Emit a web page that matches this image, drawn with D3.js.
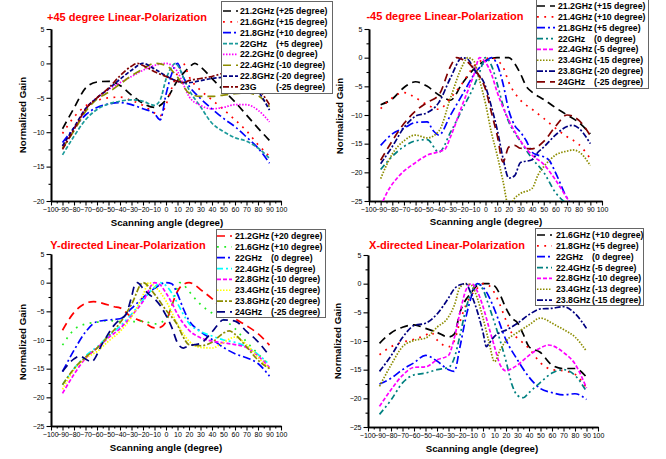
<!DOCTYPE html>
<html>
<head>
<meta charset="utf-8">
<script src="https://cdn.jsdelivr.net/npm/d3@7"></script>
<style>
  body { margin: 0; background: #fff; }
  svg { display: block; font-family: "Liberation Sans", Arial, sans-serif; }
</style>
</head>
<body>
<div id="chart"></div>
<script>
// ---- +45 degree panel ----
var p45Freq = ["21.2GHz", "21.6GHz", "21.8GHz", "22GHz", "22.2GHz", "22.4GHz", "22.8GHz", "23G"];
var p45Steer = ["(+25 degree)", "(+15 degree)", "(+10 degree)", "(+5 degree)", "(0 degree)", "(-10 degree)", "(-20 degree)", "(-25 degree)"];
var p45_212 = [[-90,-9.5],[-80,-6.5],[-70,-3.6],[-60,-2.7],[-50,-2.6],[-40,-3.2],[-30,-4.6],[-20,-5.8],[-10,-6.4],[0,-5.3],[10,-2.5],[20,-0.6],[25,0],[30,-0.5],[40,-2.2],[50,-3.9],[60,-5.6],[70,-7.5],[80,-9.4],[90,-11.2]];
var p45_216 = [[-90,-10.2],[-80,-7.8],[-70,-6.2],[-60,-5.4],[-50,-5],[-40,-4.9],[-30,-5.4],[-20,-6.1],[-10,-7.2],[-5,-7.6],[0,-6],[5,-3.6],[10,-1.4],[15,0],[20,-1.9],[30,-3.9],[40,-5.3],[50,-6.7],[60,-8.2],[70,-9.8],[80,-11.8],[90,-13.5]];
var p45_218 = [[-90,-11.5],[-80,-9.4],[-70,-7.5],[-60,-6.4],[-50,-5.9],[-40,-5.7],[-30,-6],[-20,-6.6],[-10,-7.3],[-5,-8.2],[0,-4.5],[5,-1.5],[10,0],[15,-2],[20,-3.3],[30,-5.1],[40,-6.6],[50,-8],[60,-9.2],[70,-10.7],[80,-12.3],[90,-14.5]];
var p45_220 = [[-90,-13.3],[-80,-10.6],[-70,-8.2],[-60,-6.7],[-50,-5.9],[-40,-5.5],[-30,-5.3],[-20,-5.5],[-10,-6.1],[-5,-5.3],[0,-2.3],[5,-0.5],[8,0],[12,-0.8],[15,-2],[20,-3.8],[30,-6.3],[40,-8.7],[50,-9.9],[60,-10.8],[70,-11.3],[80,-12.3],[90,-13.8]];
var p45_222 = [[-90,-12],[-80,-9.5],[-70,-6.6],[-60,-5],[-50,-3.8],[-40,-2.8],[-30,-1.9],[-20,-1],[-10,-0.3],[0,0],[5,-0.3],[10,-1.2],[15,-3],[20,-4.8],[30,-6.1],[40,-6.6],[50,-6.4],[60,-6],[70,-6],[80,-6.8],[90,-8.5]];
var p45_224 = [[-90,-12.3],[-80,-9.8],[-70,-7],[-60,-5.2],[-50,-4.2],[-40,-3],[-30,-1.8],[-20,-0.8],[-10,0],[0,-0.3],[10,-2],[20,-4.3],[30,-4.8],[40,-4.8],[50,-4.6],[60,-4.4],[70,-4.3],[80,-4.7],[90,-6.3]];
var p45_228 = [[-90,-12],[-80,-9.3],[-70,-6.6],[-60,-5],[-50,-3.7],[-40,-2.3],[-30,-1],[-20,0],[-10,-0.8],[0,-1.8],[10,-2.6],[20,-2.8],[30,-2.5],[40,-2.2],[50,-2],[60,-1.8],[70,-2.3],[80,-4],[90,-6.8]];
var p45_230 = [[-90,-12.5],[-80,-9.6],[-70,-6.7],[-60,-5],[-50,-3.6],[-40,-1.8],[-30,-0.4],[-25,0],[-20,-0.3],[-10,-1.2],[0,-1.9],[10,-2.6],[15,-2.8],[20,-2.5],[30,-2.2],[40,-1.9],[50,-1.4],[60,-1],[70,-1.5],[80,-3.5],[90,-6]];

// ---- -45 degree panel ----
var m45Freq = ["21.2GHz", "21.4GHz", "21.8GHz", "22GHz", "22.4GHz", "23.4GHz", "23.8GHz", "24GHz"];
var m45Steer = ["(+15 degree)", "(+10 degree)", "(+5 degree)", "(0 degree)", "(-5 degree)", "(-15 degree)", "(-20 degree)", "(-25 degree)"];
var m45_212 = [[-90,-8.2],[-80,-7.2],[-70,-5.2],[-60,-4.2],[-50,-5],[-40,-6.5],[-30,-7.4],[-20,-4.5],[-10,-2],[0,-0.5],[10,0],[20,0],[25,-1],[30,-2.8],[35,-5],[40,-6],[50,-7.3],[60,-8.7],[70,-10],[80,-11.3],[90,-13.3]];
var m45_214 = [[-90,-8.9],[-80,-7],[-70,-6.1],[-60,-7],[-50,-8.2],[-40,-9],[-30,-7],[-20,-4.5],[-10,-1.5],[0,-0.2],[5,0],[10,-0.5],[15,-1.6],[20,-4.3],[30,-7.4],[40,-9],[50,-10.6],[60,-12.3],[70,-13.8],[80,-15.1],[90,-17.6]];
var m45_218 = [[-90,-15.3],[-80,-13.3],[-70,-12.3],[-60,-11.3],[-50,-11.2],[-45,-12.7],[-40,-13.5],[-30,-10],[-20,-6.5],[-10,-3],[0,-0.7],[5,0],[10,-1.2],[15,-4.5],[20,-9.2],[25,-11.8],[30,-13],[35,-14.5],[40,-16.5],[45,-17],[50,-17.3],[55,-18],[60,-20],[70,-24.5],[80,-27]];
var m45_220 = [[-90,-19.5],[-80,-17.2],[-70,-15.5],[-60,-14.5],[-50,-14.3],[-40,-16.5],[-30,-13],[-20,-9],[-10,-5],[-5,-2.5],[0,0],[5,-1.3],[10,-4.5],[15,-8.3],[20,-11.2],[30,-14.6],[40,-17.6],[50,-20],[60,-23.5],[70,-25.5]];
var m45_224 = [[-90,-26],[-85,-23.7],[-75,-20.8],[-60,-18.3],[-50,-17],[-40,-16.4],[-35,-16],[-30,-13.8],[-20,-8.3],[-10,-3],[-5,0],[0,-0.8],[5,-2.8],[10,-6],[20,-10.9],[30,-14.5],[40,-17],[50,-18.6],[60,-21.3],[70,-24.5],[75,-26]];
var m45_234 = [[-90,-21.1],[-80,-16.8],[-70,-14.5],[-60,-13.5],[-50,-14],[-40,-12.8],[-30,-7],[-20,-1.5],[-15,0],[-10,-0.6],[-5,-4],[0,-8],[5,-13],[10,-17],[15,-21.5],[20,-26],[25,-24.5],[30,-23.7],[40,-22.8],[45,-20.5],[50,-19],[55,-17.9],[60,-17],[70,-16.3],[75,-16.1],[80,-16.4],[90,-18.8]];
var m45_238 = [[-90,-18.5],[-80,-15.5],[-70,-12.2],[-60,-10.2],[-50,-9.6],[-40,-7.8],[-30,-3.5],[-20,0],[-15,-0.3],[-10,-2],[0,-5],[5,-8.5],[10,-12.5],[15,-17.5],[20,-21],[25,-20.6],[30,-18.3],[40,-17.8],[45,-16.5],[50,-15.6],[60,-13.5],[70,-12],[75,-11.8],[80,-12.3],[90,-15]];
var m45_240 = [[-90,-17.9],[-80,-14.5],[-70,-11.5],[-60,-9.3],[-50,-7.8],[-40,-6.5],[-30,-1.5],[-25,0],[-20,-0.3],[-15,-0.8],[-10,-2],[-5,-3.3],[0,-5.5],[5,-9.5],[10,-13.5],[15,-18.2],[20,-15.6],[25,-15.3],[30,-15.8],[40,-15.9],[50,-14.6],[60,-12],[70,-10],[80,-10.9],[90,-13.6]];

// ---- Y-directed panel ----
var yFreq = ["21.2GHz", "21.6GHz", "22GHz", "22.4GHz", "22.8GHz", "23.4GHz", "23.8GHz", "24GHz"];
var ySteer = ["(+20 degree)", "(+10 degree)", "(0 degree)", "(-5 degree)", "(-10 degree)", "(-15 degree)", "(-20 degree)", "(-25 degree)"];
var y_212 = [[-90,-8.3],[-80,-5.2],[-70,-3.6],[-63,-3.3],[-55,-3.6],[-45,-4.2],[-40,-4.4],[-30,-6],[-20,-6.8],[-10,-7.9],[-5,-7.8],[0,-6.8],[5,-4],[10,-1.5],[15,-0.3],[20,0],[25,-0.4],[30,-1.2],[40,-2.8],[50,-4.9],[60,-6.3],[70,-7.5],[80,-8.9],[90,-10.9]];
var y_216 = [[-90,-10.9],[-80,-8.2],[-70,-7.2],[-60,-6.9],[-50,-6.6],[-40,-6.8],[-30,-6.8],[-20,-6.7],[-10,-7.2],[0,-6.4],[5,-4],[10,-0.8],[12,0],[15,-0.3],[20,-1.5],[30,-3.8],[40,-5.3],[50,-6.4],[60,-8],[70,-10.3],[80,-12.4],[90,-14.5]];
var y_220 = [[-90,-15.5],[-80,-11.8],[-70,-8.6],[-60,-6.8],[-50,-6.5],[-40,-6.3],[-30,-4.5],[-20,-2.6],[-10,-1],[0,0],[5,-0.2],[10,-2],[15,-4.5],[20,-6.6],[30,-8.5],[40,-9.9],[50,-11.3],[60,-12.4],[70,-13.1],[80,-14.1],[90,-16.3]];
var y_224 = [[-90,-17.8],[-80,-15],[-70,-12.8],[-60,-11.2],[-50,-9.3],[-40,-7.6],[-30,-5.5],[-20,-3],[-10,-0.8],[-5,0],[0,-0.5],[5,-1.8],[10,-3.6],[15,-5.5],[20,-7.1],[30,-8.5],[40,-9.3],[50,-10],[60,-10.4],[70,-11.2],[80,-12.5],[90,-14.3]];
var y_228 = [[-90,-19.3],[-80,-16],[-70,-13.2],[-60,-11.4],[-50,-9.6],[-40,-8],[-30,-5.8],[-20,-3.3],[-10,0],[-5,-0.4],[0,-1.8],[5,-3.5],[10,-5.5],[20,-8.3],[30,-9.6],[40,-10.2],[50,-10.5],[60,-10.8],[70,-11.3],[80,-12.8],[90,-14.8]];
var y_234 = [[-90,-18.6],[-80,-15.2],[-70,-13.2],[-60,-12],[-50,-10.2],[-40,-8.5],[-30,-6],[-20,-2.2],[-15,0],[-10,-0.6],[0,-3.2],[10,-7.2],[20,-10.2],[30,-11.3],[40,-11.4],[50,-10.4],[60,-9.5],[70,-10.8],[80,-13],[90,-15]];
var y_238 = [[-90,-17.8],[-80,-15],[-70,-13],[-60,-11.4],[-50,-9.3],[-40,-7],[-30,-3.8],[-20,0],[-10,-2],[0,-4.8],[10,-7.4],[15,-9.5],[20,-10.8],[30,-11],[40,-10.4],[50,-8.8],[55,-8.4],[60,-9],[70,-11.2],[80,-13.5],[90,-15]];
var y_240 = [[-90,-15.5],[-80,-13.3],[-75,-12.8],[-70,-13.3],[-65,-13.8],[-55,-10.5],[-45,-7.4],[-40,-6.4],[-35,-5.6],[-30,-2.5],[-27,-0.3],[-25,0],[-20,-1],[-15,-2],[-10,-2.8],[-5,-4],[0,-5.7],[5,-7.8],[10,-10.5],[15,-11.4],[20,-11],[25,-10.8],[30,-10.6],[40,-8.6],[50,-6.5],[60,-6.7],[70,-8.5],[80,-10.3],[90,-12.8]];

// ---- X-directed panel ----
var xFreq = ["21.6GHz", "21.8GHz", "22GHz", "22.4GHz", "22.8GHz", "23.4GHz", "23.8GHz"];
var xSteer = ["(+10 degree)", "(+5 degree)", "(0 degree)", "(-5 degree)", "(-10 degree)", "(-13 degree)", "(-15 degree)"];
var x_216 = [[-90,-10.4],[-80,-8.6],[-70,-7.6],[-60,-7.2],[-50,-7.8],[-40,-8.5],[-30,-9.3],[-25,-8.8],[-20,-5],[-10,-1.5],[-5,-0.3],[0,0],[5,0],[10,-0.4],[15,-2],[20,-4.3],[25,-6],[30,-6.8],[35,-8.8],[40,-11],[50,-12],[60,-14.2],[70,-14.8],[80,-14.8],[90,-16.3]];
var x_218 = [[-90,-12.4],[-80,-11],[-70,-10.2],[-60,-9.7],[-50,-9],[-45,-8.5],[-40,-9.8],[-30,-11],[-25,-10],[-20,-6.6],[-15,-3.8],[-5,-0.8],[0,0],[5,-0.3],[10,-1.6],[15,-3.8],[20,-6.4],[25,-8.6],[30,-9.5],[40,-11.3],[50,-13.8],[60,-15],[70,-15.2],[80,-15.8],[90,-18.2]];
var x_220 = [[-90,-17.5],[-80,-16.5],[-70,-15],[-60,-13.8],[-50,-12.5],[-40,-13.5],[-30,-15],[-25,-15.3],[-20,-11],[-15,-6],[-10,-2.2],[-5,0],[0,-0.6],[5,-2.2],[10,-4.5],[20,-9.8],[30,-13.3],[40,-16.3],[50,-18.3],[60,-19],[70,-19.4],[80,-19.2],[90,-20.2]];
var x_224 = [[-90,-22.8],[-80,-20.3],[-70,-17.3],[-60,-15.9],[-50,-15.6],[-40,-15],[-30,-14.6],[-25,-13],[-20,-9],[-15,-4.5],[-10,-1.4],[-5,0],[0,-1],[5,-3.8],[10,-6.8],[15,-10],[20,-13.5],[25,-17.5],[30,-19.5],[35,-19.9],[40,-19],[50,-17.2],[60,-15.6],[70,-15],[80,-16],[90,-18.8]];
var x_228 = [[-90,-21.4],[-80,-18.5],[-70,-16],[-60,-14.6],[-50,-14.5],[-40,-13.3],[-30,-12.5],[-25,-9.5],[-20,-5],[-15,-1.2],[-10,0],[-5,-1.3],[0,-4],[5,-7.5],[10,-11],[15,-14.2],[20,-15.2],[25,-14.8],[30,-14.2],[40,-12.5],[50,-11.2],[57,-10.7],[60,-10.8],[70,-12],[80,-14],[90,-18.2]];
var x_234 = [[-90,-17.9],[-80,-14.2],[-70,-11],[-60,-9.9],[-50,-9.5],[-40,-7.6],[-30,-5.8],[-25,-3.8],[-20,-0.6],[-15,0],[-10,-0.3],[-5,-2.5],[0,-6],[5,-10],[10,-13.6],[15,-11.5],[20,-10],[30,-8.5],[40,-7.2],[50,-6],[55,-6.3],[60,-6.9],[70,-8],[80,-9.3],[90,-11.8]];
var x_238 = [[-90,-15.3],[-80,-12.6],[-70,-9.4],[-60,-7.3],[-50,-6.9],[-40,-5.3],[-30,-2.5],[-25,-0.9],[-20,-0.2],[-15,0],[-10,-2],[-5,-4.8],[0,-8.5],[3,-11],[5,-10.5],[10,-9.2],[15,-8.5],[20,-8.1],[30,-6.9],[40,-5.4],[50,-4.4],[60,-4.3],[70,-4],[80,-5.2],[90,-7.8]];

// line styles (Origin-like)
var DASH = "8,5", DOT = "1.8,5.5", DASHDOT = "8,3,2,3", SHORTDASH = "4,2",
    SHORTDOT = "1.5,1.5", DASHDOTDOT = "6,3,2,3,2,3", SHORTDASHDOT = "6,2,2,2";

var panels = [
  {
    title: "+45 degree Linear-Polarization", tx: 127, ty: 21,
    xr: [51, 281], yd: [-20, 5], yr: [201, 29],
    xtx: 167, xty: 226, ytx: 26, yty: 115,
    legend: { x: 221, y: 1, w: 111, h: 92, y0: 11, sx0: 223, sx1: 238, tx: 240 },
    freq: p45Freq, steer: p45Steer,
    data: [p45_212, p45_216, p45_218, p45_220, p45_222, p45_224, p45_228, p45_230],
    colors: ["#000000", "#ff0000", "#0000ff", "#1a9a9a", "#ff00ff", "#8c8c00", "#000080", "#800000"],
    dashes: [DASH, DOT, DASHDOT, SHORTDASH, SHORTDOT, DASH, SHORTDASH, SHORTDASHDOT]
  },
  {
    title: "-45 degree Linear-Polarization", tx: 445, ty: 20,
    xr: [369, 602], yd: [-25, 5], yr: [201, 29],
    xtx: 486, xty: 225, ytx: 343, yty: 116,
    legend: { x: 536, y: -1, w: 112, h: 89, y0: 6, sx0: 537, sx1: 555, tx: 558 },
    freq: m45Freq, steer: m45Steer,
    data: [m45_212, m45_214, m45_218, m45_220, m45_224, m45_234, m45_238, m45_240],
    colors: ["#000000", "#ff0000", "#0000ff", "#008080", "#ff00ff", "#8c8c00", "#000080", "#800000"],
    dashes: [DASH, DOT, DASHDOT, DASHDOTDOT, SHORTDASH, SHORTDOT, SHORTDASHDOT, DASH]
  },
  {
    title: "Y-directed Linear-Polarization", tx: 128, ty: 249,
    xr: [51, 281], yd: [-25, 5], yr: [426, 254],
    xtx: 166, xty: 451, ytx: 26, yty: 342,
    legend: { x: 216, y: 229, w: 109, h: 88, y0: 236, sx0: 217, sx1: 232, tx: 235 },
    freq: yFreq, steer: ySteer,
    data: [y_212, y_216, y_220, y_224, y_228, y_234, y_238, y_240],
    colors: ["#ff0000", "#22ee22", "#0000ff", "#00ffff", "#ff00ff", "#ffff00", "#8c8c00", "#000080"],
    dashes: [DASH, DOT, DASHDOT, DASHDOTDOT, SHORTDASH, SHORTDOT, SHORTDASHDOT, DASH]
  },
  {
    title: "X-directed Linear-Polarization", tx: 447, ty: 249,
    xr: [368, 598], yd: [-25, 5], yr: [427, 255],
    xtx: 482, xty: 452, ytx: 341, yty: 341,
    legend: { x: 535, y: 228, w: 108, h: 77, y0: 235, sx0: 537, sx1: 552, tx: 556 },
    freq: xFreq, steer: xSteer,
    data: [x_216, x_218, x_220, x_224, x_228, x_234, x_238],
    colors: ["#000000", "#ff0000", "#0000ff", "#008080", "#ff00ff", "#8c8c00", "#000080"],
    dashes: [DASH, DOT, DASHDOT, DASHDOTDOT, SHORTDASH, SHORTDOT, SHORTDASHDOT]
  }
];

var svg = d3.select("#chart").append("svg")
  .attr("width", 666)
  .attr("height", 459);
svg.append("rect").attr("width", 666).attr("height", 459).attr("fill", "#fff");

function drawPanel(p, idx) {
  var x = d3.scaleLinear().domain([-100, 100]).range(p.xr);
  var y = d3.scaleLinear().domain(p.yd).range(p.yr);
  var g = svg.append("g");

  g.append("clipPath").attr("id", "clip" + idx)
    .append("rect")
    .attr("x", p.xr[0]).attr("y", p.yr[1])
    .attr("width", p.xr[1] - p.xr[0]).attr("height", p.yr[0] - p.yr[1]);

  // minor ticks
  g.append("g").attr("class", "axis")
    .attr("transform", "translate(0," + p.yr[0] + ")")
    .call(d3.axisBottom(x).tickValues(d3.range(-95, 100, 10)).tickSize(2.5).tickSizeOuter(0).tickFormat(""));
  g.append("g").attr("class", "axis")
    .attr("transform", "translate(" + p.xr[0] + ",0)")
    .call(d3.axisLeft(y).tickValues(d3.range(p.yd[0] + 2.5, p.yd[1], 5)).tickSize(2.5).tickSizeOuter(0).tickFormat(""));

  // major ticks + labels
  var xa = g.append("g").attr("class", "axis")
    .attr("transform", "translate(0," + p.yr[0] + ")")
    .call(d3.axisBottom(x).tickValues(d3.range(-100, 101, 10)).tickSize(4.5).tickSizeOuter(0).tickPadding(1.5));
  // the -100 label sits hard against -90 in the original; nudge it left a little
  xa.selectAll(".tick text").filter(function (d) { return d === -100; }).attr("dx", "-0.8");
  g.append("g").attr("class", "axis")
    .attr("transform", "translate(" + p.xr[0] + ",0)")
    .call(d3.axisLeft(y).tickValues(d3.range(p.yd[0], p.yd[1] + 0.1, 5)).tickSize(4.5).tickSizeOuter(0).tickPadding(2));

  g.selectAll(".axis path.domain").attr("stroke", "#000").attr("stroke-width", 1.6);
  g.selectAll(".axis .tick line").attr("stroke", "#000").attr("stroke-width", 1.1);
  g.selectAll(".axis text")
    .attr("font-family", "Liberation Sans, Arial, sans-serif")
    .attr("font-size", "7px")
    .attr("fill", "#000");

  var line = d3.line()
    .x(function (d) { return x(d[0]); })
    .y(function (d) { return y(d[1]); })
    .curve(d3.curveMonotoneX);

  var lines = g.append("g").attr("clip-path", "url(#clip" + idx + ")");
  p.data.forEach(function (s, i) {
    lines.append("path")
      .attr("d", line(s))
      .attr("fill", "none")
      .attr("stroke", p.colors[i])
      .attr("stroke-width", 1.7)
      .attr("stroke-dasharray", p.dashes[i]);
  });

  // titles
  g.append("text")
    .attr("x", p.tx).attr("y", p.ty)
    .attr("text-anchor", "middle")
    .attr("font-size", "11px").attr("font-weight", "bold")
    .attr("fill", "#ff0000")
    .text(p.title);
  g.append("text")
    .attr("x", p.xtx).attr("y", p.xty)
    .attr("text-anchor", "middle")
    .attr("font-size", "9.7px").attr("font-weight", "bold")
    .text("Scanning angle (degree)");
  g.append("text")
    .attr("transform", "translate(" + p.ytx + "," + p.yty + ") rotate(-90)")
    .attr("text-anchor", "middle")
    .attr("font-size", "9.7px").attr("font-weight", "bold")
    .text("Normalized Gain");

  // legend
  var L = p.legend;
  var lg = g.append("g");
  lg.append("rect")
    .attr("x", L.x + 0.5).attr("y", L.y + 0.5)
    .attr("width", L.w).attr("height", L.h)
    .attr("fill", "#fff").attr("stroke", "#666").attr("stroke-width", 1);
  p.freq.forEach(function (f, i) {
    var yy = L.y0 + i * 10.85;
    lg.append("line")
      .attr("x1", L.sx0).attr("x2", L.sx1)
      .attr("y1", yy).attr("y2", yy)
      .attr("stroke", p.colors[i])
      .attr("stroke-width", 1.7)
      .attr("stroke-dasharray", p.dashes[i]);
    lg.append("text")
      .attr("x", L.tx).attr("y", yy + 3)
      .attr("font-size", "8.7px").attr("font-weight", "bold")
      .text(f);
    lg.append("text")
      .attr("x", L.tx + 36).attr("y", yy + 3)
      .attr("font-size", "8.7px").attr("font-weight", "bold")
      .text(p.steer[i]);
  });
}

panels.forEach(drawPanel);
</script>
</body>
</html>
